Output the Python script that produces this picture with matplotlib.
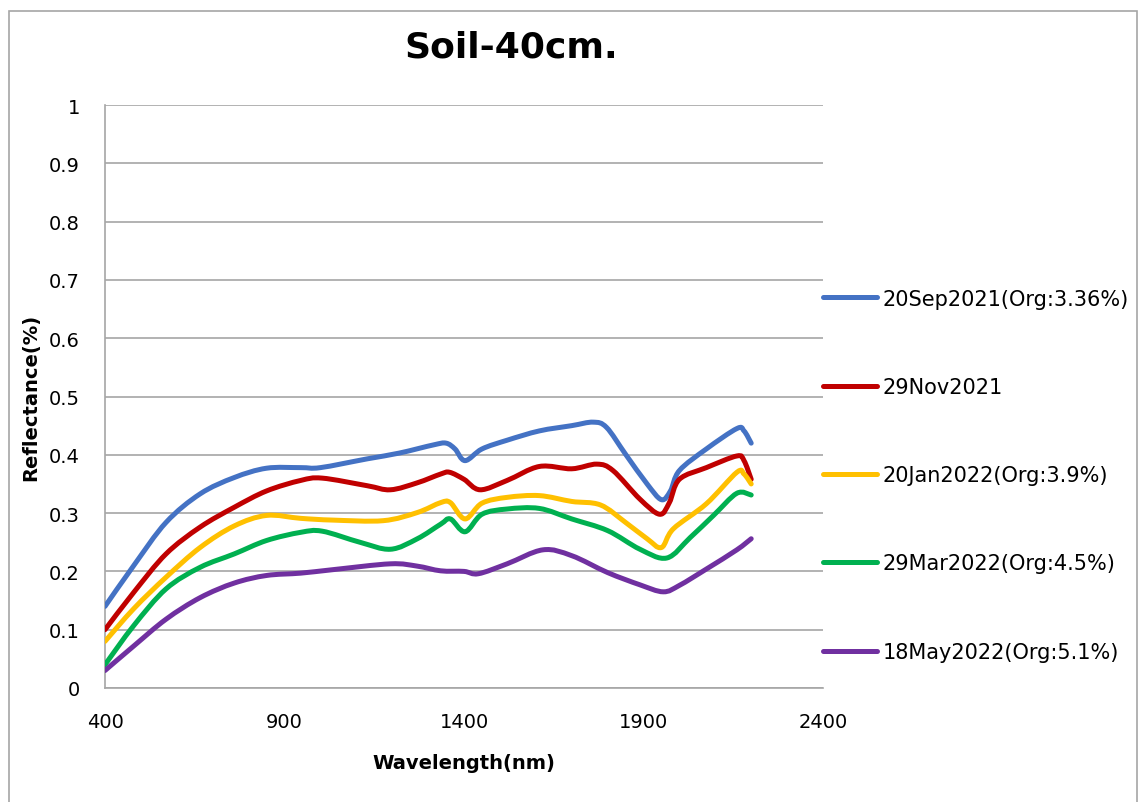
import matplotlib
matplotlib.use("Agg")
import matplotlib.pyplot as plt
from matplotlib.patches import Rectangle, PathPatch
from matplotlib.path import Path
from matplotlib.lines import Line2D

# ---- data ----
wl_sep = [400, 480, 570, 665, 760, 850, 945, 1000, 1130, 1220, 1315, 1350, 1375, 1403, 1450,
          1520, 1610, 1700, 1760, 1797, 1850, 1910, 1950, 1975, 2000, 2075, 2160, 2180, 2200]
sep = [0.14, 0.21, 0.284, 0.333, 0.361, 0.377, 0.378, 0.378, 0.393, 0.403, 0.417, 0.42, 0.41, 0.39, 0.41,
       0.425, 0.441, 0.45, 0.456, 0.447, 0.401, 0.35, 0.323, 0.338, 0.373, 0.41, 0.445, 0.441, 0.42]

wl_nov = [400, 480, 570, 665, 760, 850, 945, 1005, 1130, 1195, 1270, 1335, 1360, 1400, 1445,
          1520, 1610, 1700, 1770, 1815, 1890, 1945, 1972, 2000, 2075, 2160, 2180, 2200]
nov = [0.10, 0.164, 0.23, 0.276, 0.31, 0.338, 0.356, 0.36, 0.347, 0.34, 0.352, 0.367, 0.37, 0.358, 0.34,
       0.356, 0.38, 0.376, 0.384, 0.373, 0.324, 0.298, 0.318, 0.358, 0.378, 0.398, 0.39, 0.358]

wl_jan = [400, 480, 570, 665, 760, 850, 945, 1035, 1175, 1270, 1335, 1362, 1403, 1450,
          1520, 1610, 1700, 1780, 1850, 1910, 1950, 1983, 2075, 2160, 2180, 2200]
jan = [0.08, 0.136, 0.19, 0.241, 0.278, 0.296, 0.291, 0.288, 0.287, 0.301, 0.318, 0.318, 0.29, 0.317,
       0.327, 0.33, 0.32, 0.314, 0.284, 0.256, 0.241, 0.273, 0.316, 0.37, 0.367, 0.35]

wl_mar = [400, 480, 570, 665, 760, 850, 945, 1005, 1110, 1195, 1270, 1335, 1362, 1403, 1450,
          1520, 1610, 1700, 1800, 1890, 1965, 2030, 2095, 2160, 2200]
mar = [0.04, 0.107, 0.17, 0.207, 0.23, 0.253, 0.267, 0.269, 0.25, 0.238, 0.256, 0.281, 0.29, 0.268, 0.298,
       0.307, 0.308, 0.29, 0.27, 0.238, 0.223, 0.258, 0.296, 0.334, 0.331]

wl_may = [400, 480, 570, 665, 760, 850, 945, 1035, 1195, 1270, 1335, 1400, 1440,
          1520, 1620, 1700, 1800, 1890, 1955, 2000, 2075, 2160, 2200]
may = [0.03, 0.072, 0.118, 0.155, 0.18, 0.193, 0.197, 0.203, 0.213, 0.209, 0.201, 0.2, 0.196,
       0.213, 0.237, 0.227, 0.198, 0.177, 0.165, 0.176, 0.204, 0.237, 0.256]

labels = ["20Sep2021(Org:3.36%)", "29Nov2021", "20Jan2022(Org:3.9%)",
          "29Mar2022(Org:4.5%)", "18May2022(Org:5.1%)"]
colors = ["#4472C4", "#C00000", "#FFC000", "#00B050", "#7030A0"]
xticks = [400, 900, 1400, 1900, 2400]
yticks = [0, 0.1, 0.2, 0.3, 0.4, 0.5, 0.6, 0.7, 0.8, 0.9, 1]
ytick_labels = ["0", "0.1", "0.2", "0.3", "0.4", "0.5", "0.6", "0.7", "0.8", "0.9", "1"]

series = [(wl_sep, sep), (wl_nov, nov), (wl_jan, jan), (wl_mar, mar), (wl_may, may)]


def smooth_path(x, y):
    """Excel-style smoothed line: cubic Bezier segments through the data points."""
    pts = list(zip(x, y))
    n = len(pts)
    verts = [pts[0]]
    codes = [Path.MOVETO]
    for i in range(n - 1):
        p0 = pts[i - 1] if i > 0 else pts[i]
        p1 = pts[i]
        p2 = pts[i + 1]
        p3 = pts[i + 2] if i + 2 < n else pts[i + 1]
        c1 = (p1[0] + (p2[0] - p0[0]) / 6.0, p1[1] + (p2[1] - p0[1]) / 6.0)
        c2 = (p2[0] - (p3[0] - p1[0]) / 6.0, p2[1] - (p3[1] - p1[1]) / 6.0)
        verts += [c1, c2, p2]
        codes += [Path.CURVE4, Path.CURVE4, Path.CURVE4]
    return Path(verts, codes)


W, H = 1139, 803
fig = plt.figure(figsize=(W / 100, H / 100), dpi=100)
ax = fig.add_axes([105 / W, 1 - 689 / H, (823 - 105) / W, (689 - 106) / H])

LW = 3.6
handles = []
for (x, y), c, lab in zip(series, colors, labels):
    patch = PathPatch(smooth_path(x, y), fill=False, edgecolor=c, lw=LW,
                      joinstyle="round", capstyle="round", zorder=3)
    ax.add_patch(patch)
    handles.append(Line2D([], [], color=c, lw=LW, solid_capstyle="round"))

ax.set_xlim(400, 2400)
ax.set_ylim(0, 1)
ax.set_xticks(xticks)
ax.set_xticklabels([str(t) for t in xticks])
ax.set_yticks(yticks)
ax.set_yticklabels(ytick_labels)
ax.tick_params(axis="both", length=0, labelsize=14)
ax.tick_params(axis="x", pad=17)
ax.tick_params(axis="y", pad=18)
ax.grid(axis="y", color="#A6A6A6", lw=1.2)
ax.set_axisbelow(True)
for s in ["top", "right"]:
    ax.spines[s].set_visible(False)
for s in ["left", "bottom"]:
    ax.spines[s].set_color("#A6A6A6")
    ax.spines[s].set_linewidth(1.2)

ax.set_xlabel("Wavelength(nm)", fontsize=14, fontweight="bold", labelpad=16)
ax.set_ylabel("Reflectance(%)", fontsize=14, fontweight="bold", labelpad=6)
fig.text(511 / W, 1 - 47 / H, "Soil-40cm.", fontsize=26, fontweight="bold",
         ha="center", va="center")

leg = fig.legend(handles, labels, loc="upper left", bbox_to_anchor=(823 / W, 1 - 289.5 / H),
                 frameon=False, fontsize=15, labelspacing=3.28, handlelength=2.6,
                 handletextpad=0.25, borderaxespad=0, borderpad=0)

fig.patches.append(Rectangle((9 / W, -0.01), (1137 - 9) / W, 1.01 - 12 / H,
                             transform=fig.transFigure, fill=False,
                             edgecolor="#A6A6A6", lw=1.2))

fig.savefig("out.png", dpi=100)
